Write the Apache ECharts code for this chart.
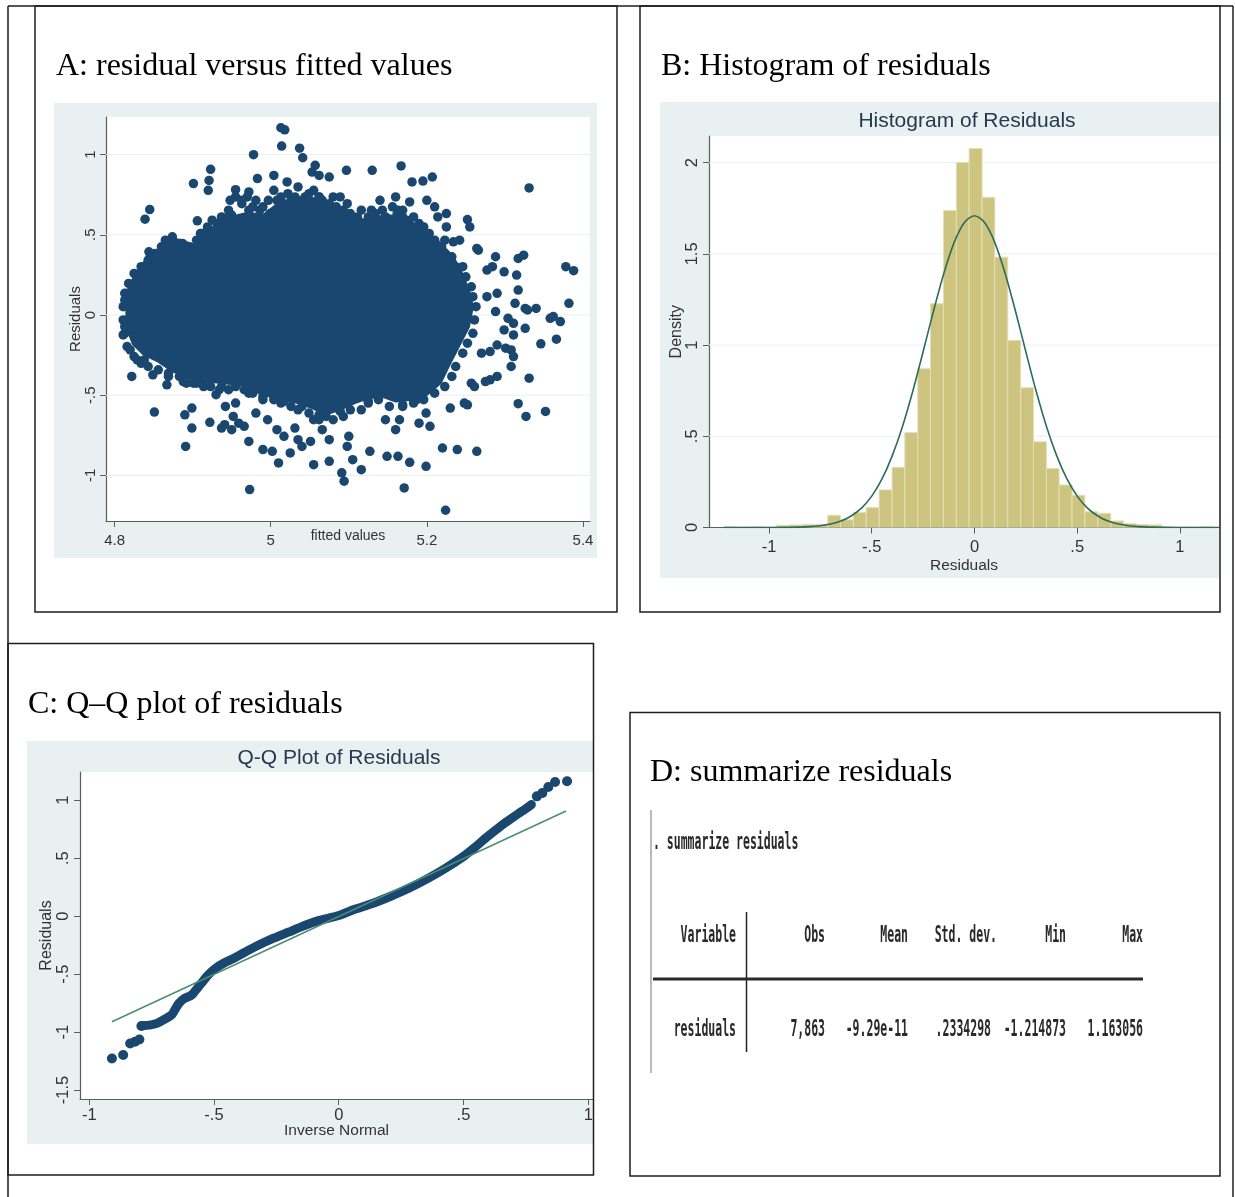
<!DOCTYPE html>
<html><head><meta charset="utf-8">
<script src="https://cdn.jsdelivr.net/npm/echarts@6/dist/echarts.min.js"></script>
<style>html,body{margin:0;padding:0;background:#fff}#c{width:1235px;height:1197px}</style>
</head><body><div id="c"></div>
<script>
// ---------- Panel A: residuals vs fitted values ----------
const aXTicks = [4.8, 5, 5.2, 5.4];
const aYTicks = [-1, -0.5, 0, 0.5, 1];
// individual points visible outside the dense cloud
const aFitted = [5.013,5.018,5.014,5.037,5.041,4.978,4.923,4.921,4.920,4.901,4.983,5.004,5.021,5.057,5.053,5.062,5.075,5.097,5.130,5.167,5.181,5.195,5.207,5.331,4.845,4.839,4.906,4.955,4.972,4.963,5.004,5.035,5.089,5.129,5.140,5.160,5.162,5.178,5.200,5.210,5.214,5.225,5.225,5.252,5.255,5.234,5.242,5.264,5.266,5.288,5.317,5.324,5.299,5.284,5.277,5.378,5.388,5.315,5.317,5.290,5.277,5.313,5.326,5.340,5.329,5.382,5.288,5.358,5.362,5.371,5.304,5.311,5.299,5.326,5.311,5.366,5.346,5.290,5.301,5.308,5.270,5.281,5.311,5.308,5.290,5.281,5.275,5.331,5.257,5.261,5.248,5.252,5.230,5.317,5.327,5.352,5.264,5.239,5.220,5.199,5.204,5.190,5.178,5.199,5.171,5.224,5.163,5.149,5.160,5.165,5.147,5.127,5.116,5.105,5.091,5.094,5.098,5.100,5.075,5.055,5.055,5.066,5.075,5.051,5.031,5.035,5.040,5.025,5.010,5.002,4.990,5.008,5.017,4.996,4.981,4.972,4.973,4.966,4.959,4.952,4.941,4.937,4.950,4.942,4.955,4.922,4.930,4.934,4.891,4.890,4.899,4.899,4.851,4.822,4.849,4.867,4.869,4.829,4.811,4.905,4.901,4.914,4.888,4.817,4.831,4.844,4.846,4.865,4.874,4.890,4.912,4.914,4.932,4.941,4.950,4.990,4.999,4.972,4.990,5.035,5.062,5.089,5.125,5.169,5.187,5.017,4.946,4.972,5.026,5.062,5.107,5.169,5.192,5.223,4.813,4.813,4.820,4.838];
const aResid = [1.167,1.154,1.053,1.040,0.980,0.999,0.908,0.839,0.777,0.819,0.850,0.870,0.829,0.933,0.891,0.870,0.860,0.902,0.902,0.929,0.829,0.835,0.860,0.792,0.657,0.597,0.587,0.781,0.767,0.715,0.777,0.798,0.736,0.653,0.715,0.736,0.632,0.705,0.715,0.674,0.611,0.632,0.549,0.595,0.549,0.456,0.466,0.415,0.404,0.363,0.352,0.373,0.269,0.301,0.280,0.301,0.276,0.249,0.155,0.135,0.114,0.073,0.041,0.041,0.031,0.073,0.021,-0.021,-0.010,-0.041,-0.021,-0.052,-0.093,-0.083,-0.124,-0.151,-0.180,-0.187,-0.207,-0.218,-0.238,-0.228,-0.259,-0.321,-0.383,-0.404,-0.415,-0.394,-0.425,-0.446,-0.549,-0.560,-0.580,-0.553,-0.632,-0.601,-0.850,-0.839,-0.829,-0.611,-0.694,-0.674,-0.918,-0.943,-1.078,-1.217,-0.881,-0.881,-0.715,-0.653,-0.653,-0.850,-0.964,-0.902,-0.984,-1.036,-0.819,-0.756,-0.912,-0.933,-0.653,-0.715,-0.777,-0.788,-0.705,-0.777,-0.819,-0.860,-0.922,-0.850,-0.839,-0.715,-0.756,-0.653,-0.611,-0.788,-1.088,-0.694,-0.674,-0.632,-0.684,-0.705,-0.715,-0.570,-0.549,-0.669,-0.497,-0.466,-0.819,-0.622,-0.580,-0.705,-0.605,-0.383,-0.373,-0.435,-0.383,-0.280,-0.124,-0.415,-0.425,-0.394,-0.415,0.135,0.155,0.394,0.363,0.466,0.487,0.373,0.508,0.466,0.560,0.570,0.622,0.601,0.632,-0.487,-0.528,-0.591,-0.622,-0.601,-0.539,-0.560,-0.528,-0.539,0.611,0.653,0.715,0.736,0.591,0.611,0.549,0.466,0.093,-0.073,-0.218,-0.280];
// dots forming the ragged fringe just outside the solid cloud
const fringeFitted = [4.910,4.919,4.925,4.932,4.937,4.946,4.948,4.955,4.963,4.970,4.977,4.981,4.986,4.990,4.997,4.999,5.008,5.013,5.017,5.022,5.031,5.035,5.044,5.049,5.055,5.062,5.066,5.075,5.080,5.084,5.093,5.098,5.102,5.111,5.116,5.125,5.129,5.134,5.143,5.147,5.152,5.156,5.163,5.169,5.174,5.183,5.190,5.196,5.203,5.210,5.219,5.223,5.232,5.237,5.246,5.241,5.250,5.257,5.259,5.263,5.261,5.259,5.252,5.246,5.237,5.232,5.223,5.210,5.196,5.183,5.169,5.152,5.138,5.125,5.116,5.102,5.093,5.080,5.071,5.062,5.049,5.040,5.026,5.013,5.004,4.990,4.977,4.966,4.955,4.946,4.937,4.923,4.914,4.905,4.892,4.883,4.869,4.856,4.843,4.834,4.825,4.816,4.813,4.811,4.811,4.813,4.818,4.825,4.834,4.843,4.852,4.860,4.874,4.887,4.896,4.905];
const fringeResid = [0.508,0.549,0.591,0.570,0.611,0.653,0.715,0.736,0.694,0.736,0.674,0.715,0.653,0.674,0.715,0.622,0.715,0.736,0.694,0.756,0.736,0.715,0.736,0.756,0.777,0.736,0.715,0.694,0.736,0.674,0.653,0.694,0.632,0.611,0.653,0.611,0.570,0.632,0.653,0.611,0.570,0.674,0.653,0.653,0.591,0.611,0.570,0.549,0.508,0.466,0.425,0.383,0.363,0.301,0.301,0.218,0.238,0.176,0.114,0.052,-0.031,-0.114,-0.176,-0.238,-0.321,-0.383,-0.446,-0.487,-0.528,-0.549,-0.570,-0.570,-0.528,-0.549,-0.591,-0.591,-0.632,-0.653,-0.632,-0.653,-0.611,-0.570,-0.570,-0.549,-0.528,-0.508,-0.487,-0.466,-0.446,-0.466,-0.446,-0.446,-0.446,-0.425,-0.425,-0.383,-0.363,-0.342,-0.321,-0.301,-0.259,-0.197,-0.114,-0.031,0.052,0.135,0.197,0.259,0.301,0.342,0.383,0.425,0.466,0.446,0.425,0.466];
// outline of the solid, fully overplotted cloud
const blobFitted = [4.820,4.829,4.840,4.856,4.869,4.883,4.901,4.919,4.937,4.955,4.972,4.990,5.008,5.035,5.053,5.071,5.089,5.107,5.125,5.143,5.160,5.178,5.196,5.214,5.232,5.243,5.252,5.257,5.252,5.241,5.228,5.216,5.199,5.178,5.160,5.143,5.125,5.107,5.089,5.071,5.053,5.035,5.017,4.999,4.981,4.963,4.946,4.928,4.910,4.892,4.874,4.856,4.838,4.825,4.817,4.817];
const blobResid = [0.17,0.26,0.33,0.40,0.47,0.46,0.43,0.51,0.58,0.61,0.63,0.61,0.68,0.71,0.72,0.69,0.63,0.60,0.58,0.61,0.61,0.58,0.51,0.45,0.36,0.26,0.155,0.052,-0.073,-0.176,-0.30,-0.42,-0.49,-0.52,-0.53,-0.50,-0.51,-0.54,-0.58,-0.61,-0.57,-0.54,-0.52,-0.50,-0.47,-0.43,-0.42,-0.41,-0.41,-0.38,-0.34,-0.280,-0.238,-0.176,-0.073,0.052];

// ---------- Panel B: histogram ----------
const bXTicks = [-1, -0.5, 0, 0.5, 1];
const bYTicks = [0, 0.5, 1, 1.5, 2];
const binEdges = [-1.215,-1.152,-1.090,-1.027,-0.965,-0.902,-0.839,-0.777,-0.714,-0.652,-0.589,-0.527,-0.464,-0.401,-0.339,-0.276,-0.214,-0.151,-0.088,-0.026,0.037,0.099,0.162,0.225,0.287,0.350,0.412,0.475,0.537,0.600,0.663,0.725,0.788,0.850,0.913,0.976,1.038,1.101,1.163];
const density = [0.004,0.002,0.004,0.002,0.012,0.014,0.016,0.018,0.067,0.042,0.082,0.109,0.206,0.330,0.520,0.870,1.227,1.737,2.001,2.078,1.810,1.482,1.026,0.766,0.470,0.324,0.233,0.177,0.086,0.078,0.036,0.022,0.016,0.014,0.004,0.002,0.002,0.004];
const curveX = [-1.22,-1.0,-0.9,-0.8,-0.75,-0.7,-0.65,-0.6,-0.55,-0.5,-0.45,-0.4,-0.35,-0.3,-0.25,-0.2,-0.15,-0.1,-0.05,0,0.05,0.1,0.15,0.2,0.25,0.3,0.35,0.4,0.45,0.5,0.55,0.6,0.65,0.7,0.75,0.8,0.9,1.0,1.19];
const curveY = [0,0.0001,0.0008,0.0048,0.0098,0.019,0.035,0.063,0.106,0.172,0.266,0.394,0.555,0.748,0.963,1.184,1.390,1.559,1.670,1.709,1.670,1.559,1.390,1.184,0.963,0.748,0.555,0.394,0.266,0.172,0.106,0.063,0.035,0.019,0.0098,0.0048,0.0008,0.0001,0];

// ---------- Panel C: Q-Q plot ----------
const cXTicks = [-1, -0.5, 0, 0.5, 1];
const cYTicks = [-1.5, -1, -0.5, 0, 0.5, 1];
const qqDotX = [-0.909,-0.864,-0.836,-0.817,-0.799,-0.791,0.794,0.816,0.840,0.867,0.915];
const qqDotY = [-1.227,-1.198,-1.098,-1.083,-1.063,-0.948,1.034,1.063,1.115,1.158,1.164];
const qqCurveX = [-0.788,-0.758,-0.729,-0.700,-0.671,-0.656,-0.641,-0.619,-0.590,-0.568,-0.546,-0.524,-0.495,-0.458,-0.422,-0.378,-0.319,-0.261,-0.202,-0.143,-0.085,0,0.061,0.135,0.208,0.281,0.354,0.428,0.501,0.545,0.589,0.633,0.662,0.691,0.720,0.750,0.772];
const qqCurveY = [-0.945,-0.940,-0.925,-0.891,-0.853,-0.805,-0.753,-0.710,-0.681,-0.624,-0.566,-0.509,-0.451,-0.402,-0.365,-0.313,-0.247,-0.190,-0.138,-0.086,-0.040,0.006,0.057,0.109,0.172,0.241,0.322,0.414,0.517,0.592,0.675,0.750,0.799,0.842,0.885,0.928,0.963];
const qqRefX = [-0.909, 0.911];
const qqRefY = [-0.911, 0.908];

// ---------- Panel D: summarize table ----------
const tblHeaders = ['Variable', 'Obs', 'Mean', 'Std. dev.', 'Min', 'Max'];
const tblRow = ['residuals', '7,863', '-9.29e-11', '.2334298', '-1.214873', '1.163056'];

// ================= drawing =================
const NAVY = '#1a476f';
const AXF = "'Liberation Sans',Arial,sans-serif";
const SANS = "'Liberation Sans',Arial,sans-serif";
const SERIF = "'Liberation Serif','Times New Roman',serif";
const MONO = "'DejaVu Sans Mono','Liberation Mono',monospace";
const fmt = v => String(Math.round(v * 1000) / 1000).replace(/^(-?)0\./, '$1.');

function axis(opts) {
  return {
    type: 'value', min: opts.min, max: opts.max, gridIndex: opts.g,
    name: opts.name, nameLocation: 'middle', nameGap: opts.nameGap, nameMoveOverlap: false,
    nameTextStyle: { fontFamily: AXF, fontSize: opts.nameSize, color: '#333' },
    axisLine: { show: true, onZero: false, lineStyle: { color: '#5c5c5c', width: 1.2 } },
    axisTick: { show: true, length: 6, customValues: opts.ticks, lineStyle: { color: '#5c5c5c' } },
    axisLabel: { customValues: opts.ticks, formatter: fmt, rotate: opts.rotate || 0, margin: opts.margin,
      fontFamily: AXF, fontSize: opts.size, color: '#333' },
    splitLine: { show: false }
  };
}
function gridLines(xi, xMin, vals, color) {
  return { type: 'custom', xAxisIndex: xi, yAxisIndex: xi, z: 1, silent: true,
    data: vals.map(v => [xMin, v]), encode: { x: 0, y: 1 },
    renderItem: (params, api) => {
      const cs = params.coordSys;
      const y = api.coord([api.value(0), api.value(1)])[1];
      return { type: 'line', shape: { x1: cs.x, y1: y, x2: cs.x + cs.width, y2: y },
        style: { stroke: color, lineWidth: 1 } };
    } };
}

const chart = echarts.init(document.getElementById('c'), null, { renderer: 'canvas' });

const box = (x1, y1, x2, y2) => ({ type: 'rect', z: 20, shape: { x: x1, y: y1, width: x2 - x1, height: y2 - y1 },
  style: { fill: null, stroke: '#1e1e1e', lineWidth: 1.5 } });
const seg = (x1, y1, x2, y2, w, c) => ({ type: 'line', z: 20, shape: { x1, y1, x2, y2 }, style: { stroke: c || '#1e1e1e', lineWidth: w || 1.5 } });
const ttl = (t, x, y) => ({ type: 'text', z: 20, x, y, style: { text: t, fontFamily: SERIF, fontSize: 32, fill: '#000', verticalAlign: 'middle' } });
const sub = (t, x, y) => ({ type: 'text', z: 20, x, y, style: { text: t, fontFamily: SANS, fontSize: 21, fill: '#26394f', align: 'center', verticalAlign: 'middle' } });
const region = (x, y, w, h) => ({ type: 'rect', z: -1, shape: { x, y, width: w, height: h }, style: { fill: '#e8f0f2' } });
const mono = (t, x, y, align) => ({ type: 'text', z: 20, x, y, scaleX: 0.5,
  style: { text: t, fontFamily: MONO, fontSize: 23, fontWeight: 'bold', fill: '#2a2a2a', align: align || 'right', verticalAlign: 'middle' } });

const colRight = [736, 825, 908, 997, 1066, 1143];
const rowRight = [736, 825, 908, 991, 1066, 1143];

const graphic = [
  region(54, 103, 543, 455), region(660, 102, 559, 476), region(27, 741, 566, 403),
  seg(8, 6, 1233, 6), seg(8, 6, 8, 1197), seg(1233, 6, 1233, 1197),
  box(35, 6, 617, 612), box(640, 6, 1220, 612), box(8, 643.5, 593.5, 1175), box(630, 712.5, 1220, 1176),
  ttl('A: residual versus fitted values', 56, 67),
  ttl('B: Histogram of residuals', 661, 67),
  ttl('C: Q\u2013Q plot of residuals', 28, 705),
  ttl('D: summarize residuals', 650, 773),
  sub('Histogram of Residuals', 967, 121),
  sub('Q-Q Plot of Residuals', 339, 758),
  seg(651, 810, 651, 1073, 1.2, '#8a8a8a'),
  mono('. summarize residuals', 653, 843, 'left'),
  seg(746.5, 912, 746.5, 1052, 1.5, '#222'),
  seg(653, 979, 1143, 979, 3, '#2a2a2a')
];
tblHeaders.forEach((t, i) => graphic.push(mono(t, colRight[i], 936)));
tblRow.forEach((t, i) => graphic.push(mono(t, rowRight[i], 1030)));

const aMinX = 4.789, bMinX = -1.292, cMinX = -1.037;

const option = {
  backgroundColor: '#ffffff',
  animation: false,
  grid: [
    { left: 106, top: 117, width: 484, height: 404, show: true, backgroundColor: '#fff', borderWidth: 0 },
    { left: 709, top: 136, width: 510, height: 391.5, show: true, backgroundColor: '#fff', borderWidth: 0 },
    { left: 80, top: 772, width: 513, height: 327, show: true, backgroundColor: '#fff', borderWidth: 0 }
  ],
  xAxis: [
    axis({ g: 0, min: aMinX, max: 5.409, ticks: aXTicks, name: 'fitted values', nameGap: 8, nameSize: 14, size: 15, margin: 12 }),
    axis({ g: 1, min: bMinX, max: 1.190, ticks: bXTicks, name: 'Residuals', nameGap: 30, nameSize: 15.5, size: 16.5, margin: 11 }),
    axis({ g: 2, min: cMinX, max: 1.019, ticks: cXTicks, name: 'Inverse Normal', nameGap: 24, nameSize: 15.5, size: 16.5, margin: 8 })
  ],
  yAxis: [
    axis({ g: 0, min: -1.284, max: 1.234, ticks: aYTicks, name: 'Residuals', nameGap: 23, nameSize: 15, size: 15, margin: 8, rotate: 90 }),
    axis({ g: 1, min: 0, max: 2.146, ticks: bYTicks, name: 'Density', nameGap: 24, nameSize: 16, size: 16.5, margin: 8, rotate: 90 }),
    axis({ g: 2, min: -1.577, max: 1.244, ticks: cYTicks, name: 'Residuals', nameGap: 25, nameSize: 16, size: 16.5, margin: 8, rotate: 90 })
  ],
  graphic: graphic,
  series: [
    gridLines(0, aMinX, aYTicks, '#ebeef0'),
    gridLines(1, bMinX, bYTicks.slice(1), '#edf0f0'),
    {
      type: 'custom', xAxisIndex: 0, yAxisIndex: 0, z: 2, silent: true, clip: true,
      data: [[blobFitted[0], blobResid[0]]], encode: { x: 0, y: 1 },
      renderItem: (params, api) => ({
        type: 'polygon',
        shape: { points: blobFitted.map((f, i) => api.coord([f, blobResid[i]])) },
        style: { fill: NAVY, stroke: NAVY, lineWidth: 5, lineJoin: 'round' }
      })
    },
    {
      type: 'scatter', xAxisIndex: 0, yAxisIndex: 0, z: 3, clip: true, silent: true,
      symbol: 'circle', symbolSize: 9.5, itemStyle: { color: NAVY, opacity: 1 },
      data: fringeFitted.map((f, i) => [f, fringeResid[i]])
    },
    {
      type: 'scatter', xAxisIndex: 0, yAxisIndex: 0, z: 3, clip: true, silent: true,
      symbol: 'circle', symbolSize: 9.5, itemStyle: { color: NAVY, opacity: 1 },
      data: aFitted.map((f, i) => [f, aResid[i]])
    },
    {
      type: 'custom', xAxisIndex: 1, yAxisIndex: 1, z: 2, silent: true, clip: true,
      data: density.map((d, i) => [binEdges[i], binEdges[i + 1], d]), encode: { x: [0, 1], y: 2 },
      renderItem: (params, api) => {
        const p0 = api.coord([api.value(0), api.value(2)]);
        const p1 = api.coord([api.value(1), 0]);
        return { type: 'rect', shape: { x: p0[0], y: p0[1], width: p1[0] - p0[0], height: p1[1] - p0[1] },
          style: { fill: '#cdc47f', stroke: '#e4dfb6', lineWidth: 1 } };
      }
    },
    {
      type: 'line', xAxisIndex: 1, yAxisIndex: 1, z: 4, silent: true, symbol: 'none', smooth: 0.3,
      lineStyle: { color: '#2d6b5e', width: 1.6 },
      data: curveX.map((x, i) => [x, curveY[i]])
    },
    {
      type: 'line', xAxisIndex: 2, yAxisIndex: 2, z: 2, silent: true, symbol: 'none', smooth: 0.3,
      lineStyle: { color: NAVY, width: 9, cap: 'round', join: 'round' },
      data: qqCurveX.map((x, i) => [x, qqCurveY[i]])
    },
    {
      type: 'scatter', xAxisIndex: 2, yAxisIndex: 2, z: 3, silent: true,
      symbol: 'circle', symbolSize: 10, itemStyle: { color: NAVY, opacity: 1 },
      data: qqDotX.map((x, i) => [x, qqDotY[i]])
    },
    {
      type: 'line', xAxisIndex: 2, yAxisIndex: 2, z: 5, silent: true, symbol: 'none',
      lineStyle: { color: '#4a8d72', width: 1.5 },
      data: qqRefX.map((x, i) => [x, qqRefY[i]])
    }
  ]
};
chart.setOption(option);
</script>
</body></html>
